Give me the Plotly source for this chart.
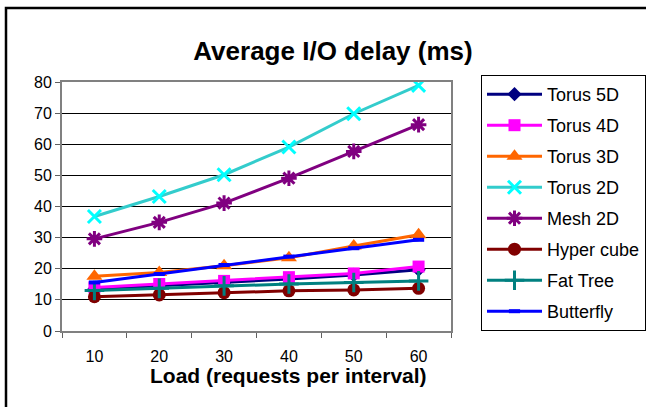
import plotly.graph_objects as go

loads = ["10", "20", "30", "40", "50", "60"]

torus5d = [13.5, 14.5, 15.5, 16.7, 18.0, 19.7]
torus4d = [14.0, 15.1, 16.1, 17.3, 18.5, 20.7]
torus3d = [17.6, 18.8, 21.0, 23.5, 27.3, 30.9]
torus2d = [36.8, 43.2, 50.2, 59.1, 69.8, 78.9]
mesh2d = [29.6, 34.9, 41.1, 49.1, 57.7, 66.3]
hypercube = [11.0, 11.6, 12.3, 12.9, 13.2, 13.7]
fattree = [13.0, 13.7, 14.5, 15.1, 15.6, 16.1]
butterfly = [15.6, 18.3, 21.2, 23.9, 26.6, 29.3]

FONT = "Liberation Sans, Arial, sans-serif"

series = [
    ("Torus 5D", torus5d, "#000080", "#000080", dict(symbol="diamond", size=11)),
    ("Torus 4D", torus4d, "#FF00FF", "#FF00FF", dict(symbol="square", size=12)),
    ("Torus 3D", torus3d, "#FF6600", "#FF6600", dict(symbol="triangle-up", size=14)),
    ("Torus 2D", torus2d, "#33CCCC", "#00FFFF", dict(symbol="x-thin", size=13, line=dict(width=3, color="#00FFFF"))),
    ("Mesh 2D", mesh2d, "#800080", "#800080", dict(symbol="asterisk", size=13, line=dict(width=3, color="#800080"))),
    ("Hyper cube", hypercube, "#800000", "#800000", dict(symbol="circle", size=13)),
    ("Fat Tree", fattree, "#008080", "#008080", dict(symbol="cross-thin", size=14, line=dict(width=3, color="#008080"))),
    ("Butterfly", butterfly, "#0000FF", "#0000FF", dict(symbol="line-ew", size=8, line=dict(width=4, color="#0000FF"))),
]

fig = go.Figure()
for i, (name, vals, lc, mc, mk) in enumerate(series):
    mk = dict(mk)
    mk["color"] = mc
    fig.add_trace(go.Scatter(
        x=loads, y=vals, name=name, mode="lines+markers",
        line=dict(color=lc, width=3), marker=mk,
        legendgroup=f"g{i}",
    ))

fig.update_layout(
    width=646, height=407,
    margin=dict(l=62, r=195, t=82, b=76, autoexpand=False),
    paper_bgcolor="white", plot_bgcolor="white",
    font=dict(family=FONT, color="black", size=16),
    title=dict(text="<b>Average I/O delay (ms)</b>", x=333 / 646, xref="container", xanchor="center",
               y=1 - 51 / 407, yref="container", yanchor="middle",
               font=dict(size=26, family=FONT, color="black")),
    legend=dict(x=(481 - 62) / 389, y=(331 - 75) / 249, xanchor="left", yanchor="top",
                bgcolor="white", bordercolor="black", borderwidth=1,
                font=dict(size=18, family=FONT, color="black"),
                tracegroupgap=4.6, traceorder="grouped", itemwidth=55, maxheight=400),
    xaxis=dict(type="category", range=[-0.5, 5.5], tickson="boundaries", ticks="outside", ticklen=5,
               tickcolor="#606060", showline=True, linecolor="#808080", linewidth=2, mirror=True,
               showgrid=False, tickfont=dict(size=16), ticklabelstandoff=10, zeroline=False),
    yaxis=dict(range=[0, 80], dtick=10, ticks="outside", ticklen=5, tickcolor="#606060",
               showline=True, linecolor="#808080", linewidth=2, mirror=True,
               showgrid=True, gridcolor="black", gridwidth=1, tickfont=dict(size=16), zeroline=False),
    showlegend=True,
)

fig.add_annotation(text="<b>Load (requests per interval)</b>", xref="paper", yref="paper",
                   x=(288 - 62) / 389, y=(331 - 375) / 249, xanchor="center", yanchor="middle",
                   showarrow=False, font=dict(size=21, family=FONT, color="black"))

fig.add_shape(type="rect", xref="paper", yref="paper",
              x0=(6 - 62) / 389, x1=(660 - 62) / 389, y0=(331 - 420) / 249, y1=(331 - 8) / 249,
              line=dict(color="black", width=2.5), fillcolor="rgba(0,0,0,0)", layer="below")

fig.write_html("out.html")
